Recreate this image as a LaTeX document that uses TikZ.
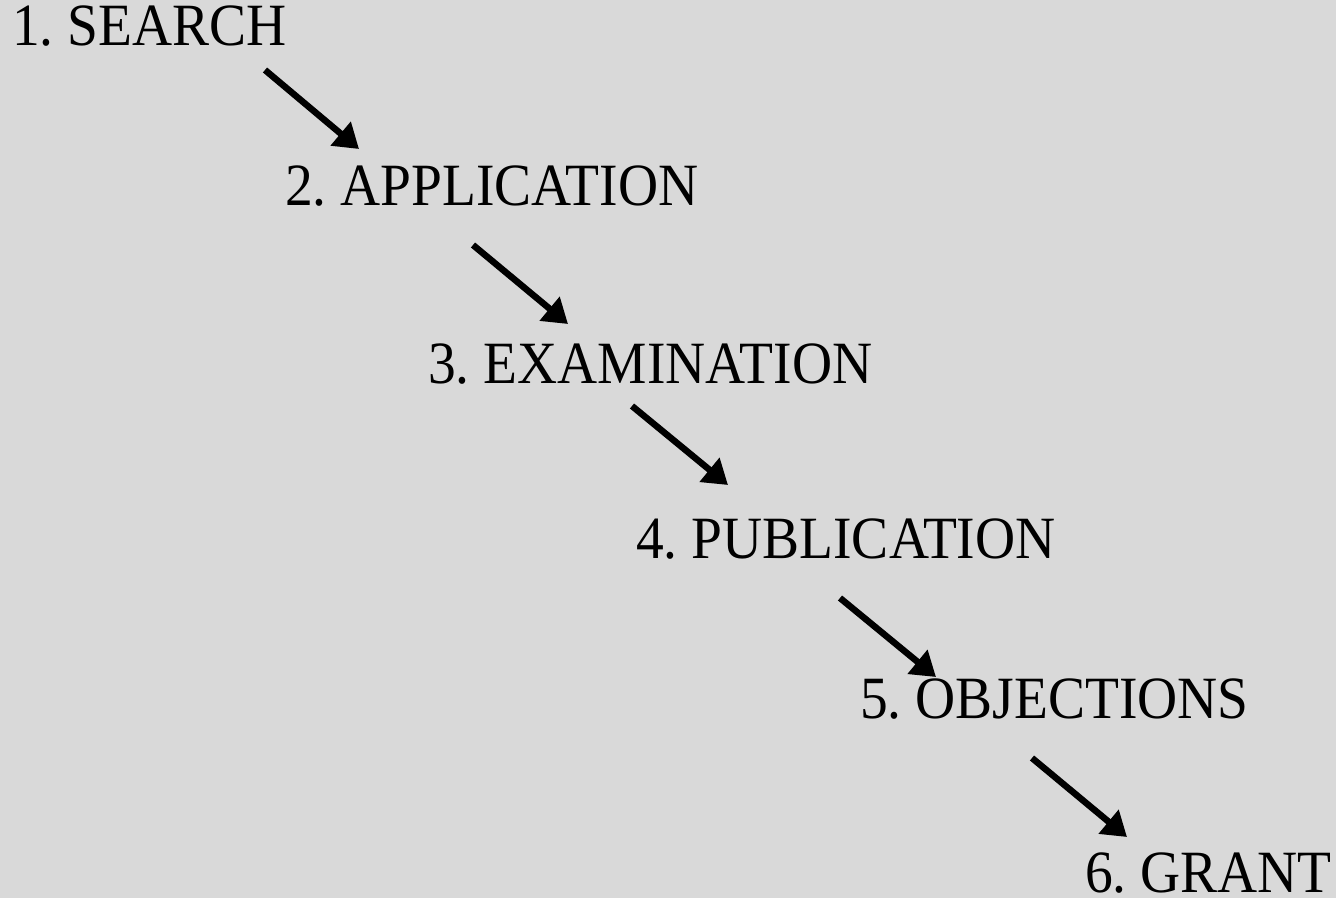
\documentclass[tikz,border=0pt]{standalone}
\usepackage{fontspec}
\setmainfont[FakeStretch=0.925]{Liberation Serif}
\usetikzlibrary{arrows.meta}
\definecolor{bg}{HTML}{D9D9D9}
\frenchspacing
\begin{document}
\begin{tikzpicture}[x=1pt,y=-1pt,
  stage/.style={anchor=base west,inner sep=0pt,text depth=0pt,font=\fontsize{60}{60}\selectfont},
  arr/.style={line width=6.5pt,-{Triangle[length=24pt,width=30pt]}}]
\fill[bg] (0,0) rectangle (1336,898);
\useasboundingbox (0,0) rectangle (1336,898);
\node[stage] (s1) at (12,45) {1. SEARCH};
\node[stage] (s2) at (285,205) {2. APPLICATION};
\node[stage] (s3) at (428,383) {3. EXAMINATION};
\node[stage] (s4) at (636,558) {4. PUBLICATION};
\node[stage] (s5) at (860,718) {5. OBJECTIONS};
\node[stage] (s6) at (1085,892) {6. GRANT};
\coordinate (a1s) at (265,70);   \coordinate (a1e) at (359,149);
\coordinate (a2s) at (473,245);  \coordinate (a2e) at (568,324);
\coordinate (a3s) at (632,406);  \coordinate (a3e) at (728,485);
\coordinate (a4s) at (840,598);  \coordinate (a4e) at (936,677);
\coordinate (a5s) at (1032,758); \coordinate (a5e) at (1127,837);
\draw[arr] (a1s) -- (a1e);
\draw[arr] (a2s) -- (a2e);
\draw[arr] (a3s) -- (a3e);
\draw[arr] (a4s) -- (a4e);
\draw[arr] (a5s) -- (a5e);
\end{tikzpicture}
\end{document}
